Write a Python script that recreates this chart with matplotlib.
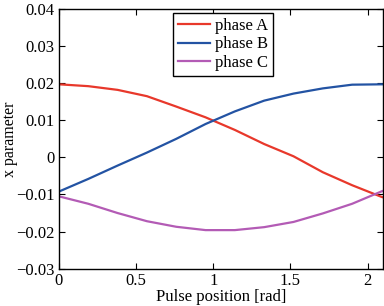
import numpy as np
import matplotlib
matplotlib.use('Agg')
import matplotlib.pyplot as plt

# Posición del pulso [rad]
pulse_pos = [0.0, 0.19, 0.38, 0.57, 0.76, 0.95, 1.14, 1.33, 1.52, 1.71, 1.90, 2.094]

# Parámetro x por fase
phase_a = [0.0197, 0.0192, 0.0182, 0.0165, 0.0137, 0.0108, 0.0074, 0.0036, 0.0003, -0.0040, -0.0075, -0.0107]
phase_b = [-0.0092, -0.0058, -0.0022, 0.0013, 0.0050, 0.0090, 0.0124, 0.0153, 0.0172, 0.0186, 0.0196, 0.0197]
phase_c = [-0.0105, -0.0125, -0.0150, -0.0172, -0.0187, -0.0196, -0.0196, -0.0188, -0.0174, -0.0151, -0.0125, -0.0091]

x_ticks = [0, 0.5, 1, 1.5, 2]
y_ticks = [-0.03, -0.02, -0.01, 0, 0.01, 0.02, 0.03, 0.04]

plt.rcParams['font.family'] = ['Liberation Serif', 'DejaVu Serif']
plt.rcParams['font.size'] = 12

fig = plt.figure(figsize=(3.84, 3.06), dpi=100)
ax = fig.add_axes([0.1536, 0.1219, 0.8438, 0.8487])

ax.plot(pulse_pos, phase_a, color='#e8382b', lw=1.6, label='phase A')
ax.plot(pulse_pos, phase_b, color='#2353a3', lw=1.6, label='phase B')
ax.plot(pulse_pos, phase_c, color='#b35bb5', lw=1.6, label='phase C')

ax.set_xlim(0, 2.1)
ax.set_ylim(-0.03, 0.04)
ax.set_xticks(x_ticks)
ax.set_xticklabels(['0', '0.5', '1', '1.5', '2'])
ax.set_yticks(y_ticks)
ax.set_yticklabels(['\u22120.03', '\u22120.02', '\u22120.01', '0', '0.01', '0.02', '0.03', '0.04'])
ax.tick_params(direction='in', length=4, width=0.8, top=True, right=True, pad=3, labelsize=12)
for s in ax.spines.values():
    s.set_linewidth(1.0)

ax.set_xlabel('Pulse position [rad]', labelpad=0)
ax.set_ylabel('x parameter', fontsize=11.5)
ax.yaxis.set_label_coords(-0.127, 0.5)

leg = ax.legend(loc='upper left', bbox_to_anchor=(0.353, 0.985), fancybox=False, edgecolor='black',
                framealpha=1, handlelength=1.9, handletextpad=0.3, borderpad=0.3, labelspacing=0.15,
                borderaxespad=0)
leg.get_frame().set_linewidth(1.0)

fig.savefig('out.png', dpi=100)
